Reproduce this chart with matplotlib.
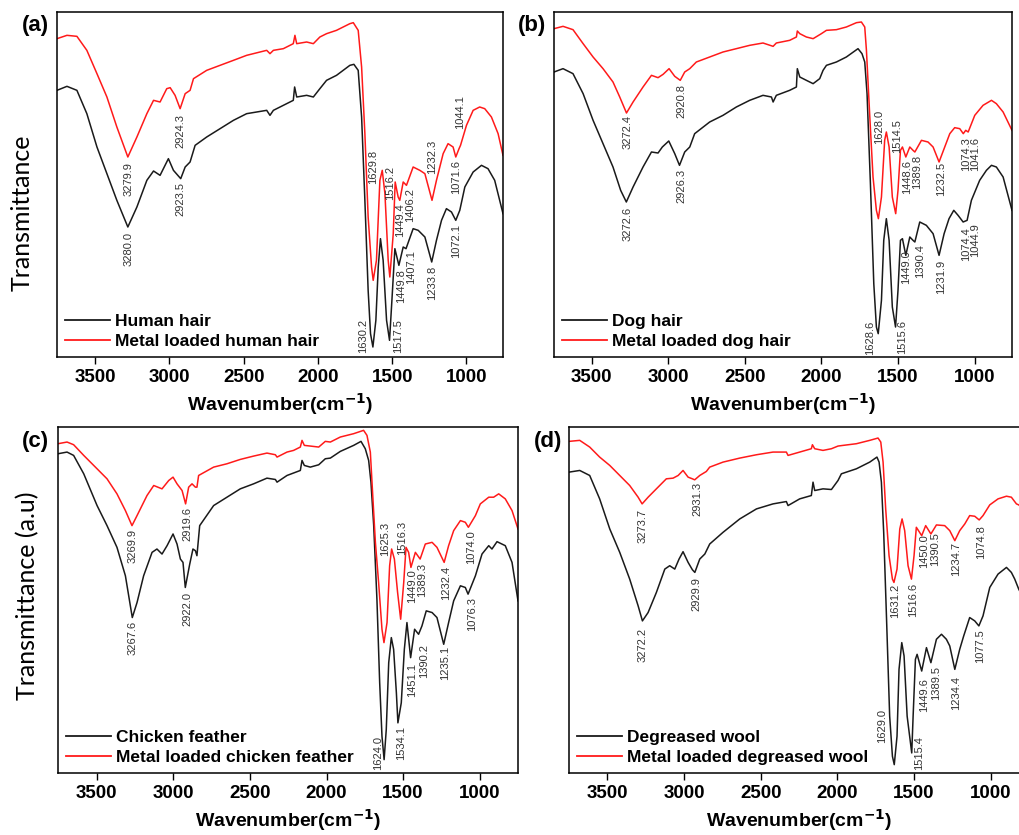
import numpy as np
import matplotlib
matplotlib.use("Agg")
import matplotlib.pyplot as plt

plt.rcParams["font.family"] = "Liberation Sans"
plt.rcParams["mathtext.default"] = "bf"

# (wavenumber, transmittance a.u.)
a_black = [(3757, 80.0), (3690, 81.2), (3623, 80.0), (3556, 73.0), (3488, 63.0), (3421, 55.0), (3354, 47.0),
           (3280, 39.0), (3219, 45.0), (3152, 53.0), (3107, 55.8), (3063, 54.5), (3007, 59.5), (2973, 56.0),
           (2924, 53.5), (2894, 57.0), (2861, 58.5), (2827, 63.5), (2749, 66.0), (2659, 68.5), (2569, 71.0),
           (2480, 73.0), (2345, 74.0), (2323, 72.5), (2300, 74.0), (2233, 75.5), (2166, 77.0), (2157, 81.0),
           (2143, 78.0), (2076, 78.5), (2031, 78.0), (1987, 80.5), (1942, 83.0), (1875, 84.5), (1785, 87.5),
           (1758, 87.8), (1729, 86.0), (1706, 72.0), (1684, 47.0), (1662, 20.0), (1646, 7.0), (1630, 3.0),
           (1610, 11.0), (1594, 27.0), (1579, 35.5), (1561, 29.0), (1538, 11.0), (1518, 5.0), (1502, 17.0),
           (1482, 32.5), (1455, 27.5), (1426, 33.0), (1407, 32.5), (1359, 38.5), (1325, 38.0), (1280, 36.0),
           (1234, 28.5), (1202, 35.0), (1168, 41.0), (1135, 44.5), (1101, 43.5), (1072, 41.0), (1045, 44.0),
           (1011, 51.0), (955, 55.5), (899, 57.5), (855, 56.5), (810, 53.0), (754, 43.0)]
a_red = [(3757, 95.5), (3690, 96.5), (3623, 96.2), (3556, 92.0), (3488, 85.0), (3421, 78.0), (3354, 69.0),
         (3280, 60.0), (3219, 66.0), (3152, 73.0), (3107, 77.0), (3063, 76.5), (3018, 80.5), (2995, 80.8),
         (2962, 78.5), (2928, 74.5), (2894, 79.0), (2861, 80.0), (2838, 83.5), (2749, 86.0), (2659, 87.5),
         (2569, 89.0), (2480, 90.5), (2345, 92.0), (2323, 91.0), (2300, 92.0), (2233, 92.5), (2166, 94.0),
         (2155, 96.5), (2143, 94.0), (2076, 94.5), (2031, 94.0), (1987, 96.0), (1942, 97.0), (1875, 98.0),
         (1785, 100.0), (1762, 100.3), (1729, 98.0), (1706, 87.0), (1684, 67.0), (1662, 42.0), (1639, 27.0),
         (1628, 23.0), (1606, 29.0), (1583, 53.0), (1567, 56.0), (1549, 49.0), (1527, 29.0), (1516, 24.0),
         (1493, 37.0), (1480, 52.5), (1460, 48.0), (1449, 47.0), (1426, 52.5), (1404, 51.5), (1359, 57.0),
         (1314, 56.0), (1280, 55.0), (1232, 47.0), (1202, 53.0), (1157, 61.0), (1124, 64.0), (1090, 63.0),
         (1072, 60.0), (1050, 62.5), (1040, 63.5), (1000, 69.5), (955, 74.0), (911, 75.0), (877, 74.5),
         (832, 72.0), (787, 67.0), (754, 60.5)]

b_black = [(3745, 85.5), (3686, 86.5), (3621, 85.0), (3555, 79.0), (3490, 71.0), (3425, 64.0), (3360, 57.0),
           (3310, 50.0), (3273, 46.5), (3229, 51.0), (3164, 57.0), (3109, 61.5), (3066, 61.2), (3038, 63.0),
           (2996, 64.8), (2957, 61.0), (2926, 57.5), (2892, 61.5), (2859, 63.0), (2827, 67.0), (2729, 70.5),
           (2642, 72.5), (2555, 75.0), (2468, 77.0), (2381, 78.5), (2326, 78.0), (2315, 76.5), (2294, 78.5),
           (2207, 80.0), (2163, 81.0), (2157, 86.5), (2141, 84.0), (2098, 83.0), (2054, 82.0), (2011, 83.5),
           (1989, 86.0), (1967, 87.5), (1902, 88.5), (1837, 90.0), (1761, 92.5), (1735, 91.0), (1717, 88.5),
           (1702, 79.0), (1680, 52.0), (1658, 22.0), (1641, 9.0), (1629, 7.0), (1608, 17.0), (1593, 35.0),
           (1576, 41.5), (1558, 35.0), (1537, 15.0), (1516, 9.0), (1500, 20.0), (1484, 35.0), (1471, 35.5),
           (1449, 30.5), (1423, 36.0), (1402, 35.0), (1390, 34.5), (1358, 40.5), (1315, 39.5), (1271, 37.0),
           (1232, 30.5), (1199, 37.0), (1167, 41.5), (1136, 44.0), (1108, 42.5), (1075, 40.5), (1049, 41.0),
           (1021, 47.0), (967, 53.0), (923, 56.0), (890, 57.5), (858, 57.0), (814, 54.0), (756, 44.0)]
b_red = [(3745, 98.5), (3686, 99.2), (3621, 98.2), (3555, 94.0), (3490, 90.0), (3425, 86.5), (3360, 82.5),
         (3316, 78.0), (3272, 73.2), (3229, 76.5), (3164, 81.0), (3109, 84.5), (3066, 83.8), (3033, 84.8),
         (2994, 86.5), (2957, 84.2), (2921, 83.0), (2892, 85.5), (2859, 86.5), (2816, 88.5), (2729, 90.0),
         (2642, 91.5), (2555, 92.5), (2468, 93.5), (2381, 94.2), (2315, 93.2), (2294, 94.2), (2207, 95.0),
         (2163, 96.0), (2157, 97.8), (2141, 97.0), (2098, 96.0), (2054, 95.5), (2000, 97.0), (1967, 98.0),
         (1902, 98.2), (1837, 99.0), (1771, 100.3), (1739, 100.5), (1717, 99.0), (1706, 92.0), (1684, 72.0),
         (1663, 54.0), (1641, 44.0), (1628, 41.5), (1608, 48.0), (1587, 65.0), (1576, 67.5), (1558, 63.0),
         (1537, 48.0), (1515, 43.0), (1500, 50.0), (1484, 62.0), (1471, 63.0), (1449, 60.0), (1423, 63.0),
         (1402, 62.0), (1390, 61.5), (1347, 65.0), (1304, 64.5), (1271, 63.0), (1232, 58.5), (1195, 63.0),
         (1162, 67.0), (1130, 68.8), (1097, 68.5), (1074, 67.0), (1058, 68.0), (1042, 67.5), (999, 72.5),
         (945, 75.5), (890, 77.0), (858, 76.0), (814, 73.5), (756, 68.0)]

c_black = [(3753, 95.5), (3694, 96.0), (3651, 95.0), (3585, 89.5), (3498, 80.0), (3433, 74.0), (3368, 67.5),
           (3313, 59.0), (3268, 46.5), (3237, 51.0), (3194, 59.0), (3139, 66.0), (3107, 67.0), (3074, 65.5),
           (3041, 68.0), (3002, 71.5), (2976, 68.5), (2954, 64.0), (2937, 63.0), (2922, 55.5), (2893, 62.5),
           (2872, 67.0), (2856, 66.5), (2846, 65.0), (2828, 74.0), (2737, 80.0), (2650, 82.5), (2563, 85.0),
           (2476, 86.5), (2389, 88.2), (2334, 87.8), (2323, 87.0), (2258, 89.0), (2171, 90.5), (2160, 93.5),
           (2145, 92.0), (2106, 91.5), (2051, 92.2), (2008, 94.0), (1975, 94.2), (1910, 96.2), (1823, 98.0),
           (1775, 99.2), (1747, 97.0), (1725, 93.5), (1710, 87.0), (1692, 74.0), (1671, 52.0), (1653, 27.0),
           (1638, 11.0), (1624, 4.0), (1610, 13.0), (1594, 33.0), (1577, 40.5), (1562, 37.0), (1544, 24.0),
           (1534, 15.0), (1512, 21.0), (1492, 37.0), (1475, 45.0), (1451, 34.5), (1425, 43.0), (1399, 41.5),
           (1377, 44.0), (1349, 48.5), (1311, 48.0), (1279, 46.5), (1235, 38.5), (1203, 45.0), (1170, 51.5),
           (1126, 56.0), (1094, 55.5), (1076, 53.5), (1028, 59.0), (985, 65.5), (941, 68.0), (920, 67.0),
           (887, 69.2), (833, 68.0), (789, 63.0), (750, 51.5)]
c_red = [(3753, 98.5), (3694, 99.0), (3651, 98.2), (3585, 95.0), (3498, 91.0), (3433, 88.0), (3368, 83.5),
         (3313, 78.5), (3270, 74.0), (3237, 77.0), (3172, 83.0), (3128, 86.0), (3074, 85.0), (3030, 87.5),
         (3002, 88.5), (2976, 86.5), (2943, 84.5), (2920, 80.5), (2900, 85.5), (2878, 86.5), (2856, 85.5),
         (2846, 85.5), (2835, 89.0), (2737, 91.5), (2650, 92.5), (2563, 93.8), (2476, 94.8), (2389, 95.7),
         (2334, 95.2), (2323, 94.5), (2258, 96.0), (2215, 96.5), (2171, 97.5), (2160, 99.5), (2145, 98.0),
         (2106, 97.8), (2051, 97.5), (2008, 99.2), (1975, 99.0), (1910, 100.5), (1823, 101.5), (1758, 102.5),
         (1736, 101.0), (1714, 96.0), (1697, 82.0), (1681, 69.0), (1660, 57.0), (1638, 43.0), (1625, 39.0),
         (1605, 45.0), (1588, 62.0), (1575, 67.0), (1557, 64.0), (1536, 54.0), (1516, 46.0), (1496, 57.0),
         (1481, 67.5), (1464, 66.0), (1449, 61.5), (1420, 66.0), (1389, 64.0), (1355, 68.5), (1311, 69.0),
         (1279, 67.5), (1232, 63.0), (1203, 68.0), (1170, 72.5), (1126, 75.5), (1094, 75.0), (1074, 73.5),
         (1028, 77.0), (996, 80.5), (941, 82.5), (909, 82.5), (876, 83.5), (833, 82.0), (789, 78.5),
         (750, 73.0)]

d_black = [(3751, 90.0), (3681, 90.5), (3616, 89.0), (3551, 82.0), (3485, 73.0), (3420, 66.0), (3355, 58.0),
           (3300, 50.0), (3272, 45.5), (3235, 48.0), (3181, 54.0), (3126, 61.0), (3094, 62.0), (3061, 61.0),
           (3033, 64.0), (3007, 66.2), (2974, 63.0), (2946, 60.8), (2930, 60.0), (2898, 64.0), (2865, 65.5),
           (2833, 68.5), (2746, 72.0), (2637, 76.0), (2528, 79.0), (2420, 80.5), (2333, 81.2), (2322, 80.0),
           (2246, 82.0), (2170, 83.0), (2159, 87.0), (2148, 84.5), (2094, 85.0), (2039, 84.8), (1996, 87.5),
           (1974, 89.5), (1876, 91.0), (1789, 93.0), (1742, 94.5), (1728, 93.0), (1713, 87.0), (1698, 72.0),
           (1680, 47.0), (1659, 17.0), (1641, 5.0), (1629, 2.5), (1611, 11.0), (1598, 31.0), (1580, 39.0),
           (1565, 35.0), (1545, 17.0), (1515, 6.0), (1506, 17.0), (1491, 34.0), (1480, 35.5), (1450, 30.5),
           (1419, 37.5), (1390, 33.0), (1354, 40.0), (1321, 41.5), (1289, 40.0), (1267, 38.0), (1234, 31.0),
           (1202, 37.0), (1176, 41.0), (1137, 46.5), (1104, 45.5), (1077, 44.0), (1050, 47.0), (1006, 55.5),
           (952, 59.5), (897, 61.5), (865, 60.0), (843, 58.0), (817, 55.0), (750, 49.0)]
d_red = [(3751, 99.2), (3681, 99.5), (3616, 97.5), (3551, 94.5), (3485, 92.0), (3420, 89.0), (3355, 86.0),
         (3300, 82.5), (3274, 80.5), (3235, 82.5), (3181, 85.0), (3116, 88.0), (3072, 88.2), (3039, 89.0),
         (3007, 90.5), (2974, 88.5), (2946, 88.0), (2931, 87.7), (2898, 89.0), (2855, 90.2), (2833, 91.5),
         (2746, 93.0), (2637, 94.2), (2528, 95.2), (2420, 96.0), (2333, 96.0), (2322, 95.0), (2246, 96.0),
         (2170, 97.0), (2163, 98.2), (2148, 97.0), (2094, 96.5), (2039, 97.0), (1996, 97.8), (1963, 98.0),
         (1876, 98.5), (1789, 99.5), (1735, 100.2), (1717, 99.0), (1702, 93.0), (1685, 79.0), (1663, 65.0),
         (1641, 58.0), (1631, 57.0), (1611, 61.0), (1593, 73.0), (1578, 76.0), (1561, 72.5), (1539, 62.0),
         (1517, 58.0), (1500, 65.0), (1485, 73.5), (1450, 71.0), (1424, 74.0), (1390, 71.5), (1354, 74.2),
         (1300, 74.0), (1267, 72.5), (1234, 69.5), (1202, 72.5), (1169, 74.5), (1137, 77.0), (1104, 76.8),
         (1075, 75.7), (1050, 77.0), (1006, 80.2), (952, 82.0), (897, 82.8), (865, 82.5), (832, 80.5),
         (817, 80.2), (750, 77.5)]

a_names = ["Human hair", "Metal loaded human hair"]
b_names = ["Dog hair", "Metal loaded dog hair"]
c_names = ["Chicken feather", "Metal loaded chicken feather"]
d_names = ["Degreased wool", "Metal loaded degreased wool"]

# peak labels
a_peaks = ["3279.9", "3280.0", "2924.3", "2923.5", "1629.8", "1516.2", "1449.4", "1406.2", "1232.3",
           "1071.6", "1044.1", "1630.2", "1517.5", "1449.8", "1407.1", "1233.8", "1072.1"]
b_peaks = ["3272.4", "2920.8", "3272.6", "2926.3", "1628.0", "1514.5", "1448.6", "1389.8", "1232.5",
           "1074.3", "1041.6", "1628.6", "1515.6", "1449.0", "1390.4", "1231.9", "1074.4", "1044.9"]
c_peaks = ["3269.9", "2919.6", "3267.6", "2922.0", "1625.3", "1516.3", "1449.0", "1389.3", "1232.4",
           "1074.0", "1076.3", "1624.0", "1534.1", "1451.1", "1390.2", "1235.1"]
d_peaks = ["3273.7", "2931.3", "3272.2", "2929.9", "1631.2", "1516.6", "1450.0", "1390.5", "1234.7",
           "1074.8", "1629.0", "1515.4", "1449.6", "1389.5", "1234.4", "1077.5"]

# where each peak label sits (x, top of text)
a_peak_pos = [(3276, 58.5), (3276, 37.5), (2928, 73), (2928, 52.5), (1628, 62.2), (1511, 57.2), (1444, 46),
              (1377, 50.8), (1231, 65.2), (1072, 59), (1040, 78.5), (1695, 11.5), (1460, 11.5), (1437, 26.5),
              (1370, 32), (1229, 27.5), (1072, 40)]
b_peak_pos = [(3262, 72.5), (2914, 82), (3262, 45), (2914, 56.5), (1623, 74), (1506, 71.5), (1441, 59),
              (1375, 60.5), (1217, 58.5), (1058, 66), (1000, 66), (1684, 11), (1476, 11), (1449, 32),
              (1358, 34), (1217, 29), (1058, 39), (1000, 40)]
c_peak_pos = [(3263, 73), (2911, 79.5), (3263, 45.5), (2911, 54), (1616, 75), (1507, 75.5), (1442, 61),
              (1377, 63), (1218, 62), (1055, 72.5), (1050, 52.5), (1666, 11), (1514, 14), (1442, 33),
              (1366, 38.5), (1224, 38)]
d_peak_pos = [(3268, 79), (2916, 87), (3268, 43.5), (2920, 58.5), (1626, 56.5), (1506, 57), (1437, 71.5),
              (1365, 72), (1228, 69), (1065, 74), (1706, 19), (1467, 11), (1437, 28.5), (1358, 32),
              (1224, 29), (1071, 43)]

W, H = 1019, 835
fig = plt.figure(figsize=(W / 100, H / 100), dpi=100)


def px_axes(left, top, right, bottom):
    return fig.add_axes([left / W, 1 - bottom / H, (right - left) / W, (bottom - top) / H])


def draw_panel(ax, black, red, names, peaks, peak_pos, xlim, letter, letter_x, letter_y):
    bk = np.array(black)
    rd = np.array(red)
    ax.plot(bk[:, 0], bk[:, 1], color="#1a1a1a", lw=1.1, label=names[0])
    ax.plot(rd[:, 0], rd[:, 1], color="#ff1a1a", lw=1.1, label=names[1])
    ax.set_xlim(xlim)
    ax.set_ylim(0, 103.5)
    ax.set_yticks([])
    ax.set_xticks([3500, 3000, 2500, 2000, 1500, 1000])
    ax.tick_params(axis="x", direction="out", length=5, width=1, labelsize=13.5, pad=4)
    for lab in ax.get_xticklabels():
        lab.set_fontweight("bold")
    for sp in ax.spines.values():
        sp.set_linewidth(1.1)
    ax.set_xlabel("Wavenumber(cm$^{-1}$)", fontsize=14, fontweight="bold", labelpad=3)

    for txt, (x, y) in zip(peaks, peak_pos):
        ax.text(x, y, txt, rotation=90, ha="center", va="top", fontsize=8, color="#333333")

    leg = ax.legend(loc="lower left", frameon=False, handlelength=2.6, handletextpad=0.3,
                    labelspacing=0.3, borderaxespad=0.2, borderpad=0.25,
                    prop={"weight": "bold", "size": 12.5})
    for line in leg.get_lines():
        line.set_linewidth(1.3)

    fig.text(letter_x / W, 1 - letter_y / H, letter, fontsize=16, fontweight="bold",
             ha="left", va="center")


ax_a = px_axes(57, 12, 503, 357)
ax_b = px_axes(554, 12, 1012, 357)
ax_c = px_axes(58, 427, 518, 773)
ax_d = px_axes(569, 427, 1029, 773)

draw_panel(ax_a, a_black, a_red, a_names, a_peaks, a_peak_pos, (3757, 754), "(a)", 22, 26)
draw_panel(ax_b, b_black, b_red, b_names, b_peaks, b_peak_pos, (3745, 756), "(b)", 518, 26)
draw_panel(ax_c, c_black, c_red, c_names, c_peaks, c_peak_pos, (3753, 750), "(c)", 22, 441)
draw_panel(ax_d, d_black, d_red, d_names, d_peaks, d_peak_pos, (3751, 750), "(d)", 534, 441)

fig.text(22 / W, 1 - 213 / H, "Transmittance", rotation=90, fontsize=18, family="Lato",
         ha="center", va="center")
fig.text(28 / W, 1 - 596 / H, "Transmittance (a.u)", rotation=90, fontsize=18, family="Lato",
         ha="center", va="center")

fig.savefig("out.png", dpi=100)
